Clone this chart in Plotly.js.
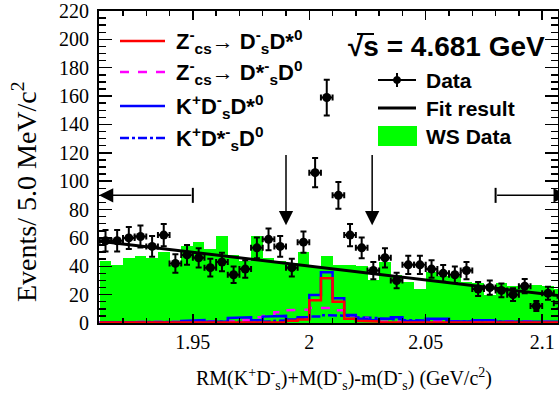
<!DOCTYPE html>
<html><head><meta charset="utf-8">
<script src="https://cdn.plot.ly/plotly-3.0.1.min.js"></script>
<style>html,body{margin:0;padding:0;background:#fff;}#chart{width:559px;height:397px;}</style>
</head><body><div id="chart"></div>
<script>
// ---- data (40 bins of 5 MeV starting at 1.91 GeV) ----
const binLow = 1.91;
const binWidth = 0.005;
const dataCounts = [58,58,60,61,54,62,42,48,46,39,43,34,38,53,59,54,39,57,106,159,90,62,53,37,46,30,41,41,38,35,34,37,24,25,23,20,26,12,21,14];
const wsCounts   = [44,41,46,47,46,50,41,54,57,52,61,48,44,61,46,44,42,50,40,47,41,41,40,30,43,34,29,24,36,33,33,29,28,20,28,26,27,27,26,24];
const zcsDsDst0  = [0.3,0.3,0.3,0.3,0.3,0.3,0.3,0.3,0.3,0.3,0.3,0.3,0.3,0.3,0.3,0.3,1.5,2.5,16,31.5,15,3,1.5,1,0.3,0.3,0.3,0.3,0.3,0.3,0.3,0.3,0.3,0.3,0.3,0.3,0.3,0.3,0.3,0.3];
const zcsDstsD0  = [0.5,0.5,0.5,0.5,0.5,0.5,0.5,0.5,0.5,0.5,0.5,1,2,4,5,7.5,9,9.5,10.5,10.5,9,5.5,3.5,1.5,0.8,0.8,0.8,0.8,0.8,0.8,0.8,0.8,0.8,0.8,0.8,0.8,0.8,0.8,0.8,0.8];
const kDsDst0    = [0.5,0.5,0.5,0.5,0.5,0.5,0.5,1.5,2,0.8,0.8,3.5,4,2,4.5,5,2.5,4,19.7,35.7,17.4,5.6,3,2,3,4,1.5,1,3,3,1,1,2,2,0.8,0.8,0.8,0.8,0.8,0.8];
const kDstsD0    = [0.5,0.5,0.5,0.5,0.5,0.5,0.5,0.5,0.5,0.5,0.5,0.5,0.5,0.5,1,1.5,2,3,4.5,5.5,5,5,4,3.5,3,2.5,2,2,1.5,1.5,1.2,1.2,1,1,1,0.8,0.8,0.6,0.5,0.5];
const fitX = [1.91, 2.11];
const fitY = [57.7, 18.7];
const sidebandEdges = [1.95, 2.08];
const signalEdges = [1.99, 2.027];
const xRange = [1.9097, 2.1068];
const yRange = [0, 220];

// ---- helpers ----
const centers = dataCounts.map((_, i) => binLow + (i + 0.5) * binWidth);
function steps(vals) {
  const xs = [], ys = [];
  vals.forEach((v, i) => { xs.push(binLow + i * binWidth, binLow + (i + 1) * binWidth); ys.push(v, v); });
  return {x: xs, y: ys};
}
// plot area in pixels
const L = 99, R = 558, T = 11, B = 323;
const px = x => (x - L) / (R - L);
const py = y => (B - y) / (B - T);

const traces = [];
traces.push({type:'bar', x: centers, y: wsCounts, width: binWidth, marker:{color:'#00ff00', line:{width:0}}, hoverinfo:'skip'});
const s1 = steps(kDstsD0);
traces.push({type:'scatter', mode:'lines', x:s1.x, y:s1.y, line:{color:'#0000ff', width:2.5, dash:'dashdot'}});
const s2 = steps(zcsDstsD0);
traces.push({type:'scatter', mode:'lines', x:s2.x, y:s2.y, line:{color:'#ff00ff', width:2.5, dash:'dash'}});
const s3 = steps(kDsDst0);
traces.push({type:'scatter', mode:'lines', x:s3.x, y:s3.y, line:{color:'#0000ff', width:2.5}});
const s4 = steps(zcsDsDst0);
traces.push({type:'scatter', mode:'lines', x:s4.x, y:s4.y, line:{color:'#ff0000', width:2.5}});
traces.push({type:'scatter', mode:'lines', x:fitX, y:fitY, line:{color:'black', width:3}});
traces.push({type:'scatter', mode:'markers', x:centers, y:dataCounts, cliponaxis:false,
  marker:{color:'black', size:9},
  error_y:{type:'sqrt', color:'black', thickness:2, width:3},
  error_x:{type:'constant', value:binWidth/2, color:'black', thickness:2, width:3}});

const shapes = [];
const annotations = [];
// sideband / signal arrows
const arrowY = 90;
annotations.push({x:xRange[0], y:arrowY, ax:sidebandEdges[0], ay:arrowY, axref:'x', ayref:'y', xref:'x', yref:'y', text:'', showarrow:true, arrowhead:2, arrowsize:1.9, arrowwidth:1.5, arrowcolor:'black'});
annotations.push({x:2.111, y:arrowY, ax:sidebandEdges[1], ay:arrowY, axref:'x', ayref:'y', xref:'x', yref:'y', text:'', showarrow:true, arrowhead:2, arrowsize:1.9, arrowwidth:1.5, arrowcolor:'black'});
sidebandEdges.forEach(e => shapes.push({type:'line', xref:'x', yref:'y', x0:e, x1:e, y0:arrowY-5.3, y1:arrowY+5.3, line:{color:'black', width:2}}));
signalEdges.forEach(e => annotations.push({x:e, y:69, ax:e, ay:119.6, axref:'x', ayref:'y', xref:'x', yref:'y', text:'', showarrow:true, arrowhead:2, arrowsize:1.9, arrowwidth:1.5, arrowcolor:'black'}));

// left legend
const legL = [
  {y:41, color:'#ff0000', dash:'solid', text:'<b>Z<sup>-</sup><sub>cs</sub>→ D<sup>-</sup><sub>s</sub>D*<sup>0</sup></b>'},
  {y:72, color:'#ff00ff', dash:'dash', text:'<b>Z<sup>-</sup><sub>cs</sub>→ D*<sup>-</sup><sub>s</sub>D<sup>0</sup></b>'},
  {y:106, color:'#0000ff', dash:'solid', text:'<b>K<sup>+</sup>D<sup>-</sup><sub>s</sub>D*<sup>0</sup></b>'},
  {y:138, color:'#0000ff', dash:'dashdot', text:'<b>K<sup>+</sup>D*<sup>-</sup><sub>s</sub>D<sup>0</sup></b>'}
];
legL.forEach(e => {
  shapes.push({type:'line', xref:'paper', yref:'paper', x0:px(120), x1:px(165), y0:py(e.y), y1:py(e.y), line:{color:e.color, width:2.5, dash:e.dash}});
  annotations.push({xref:'paper', yref:'paper', x:px(174), y:py(e.y), xanchor:'left', yanchor:'middle', text:e.text, showarrow:false, font:{family:'Liberation Sans', size:22, color:'black'}});
});
// right legend
shapes.push({type:'line', xref:'paper', yref:'paper', x0:px(378), x1:px(416), y0:py(80), y1:py(80), line:{color:'black', width:2}});
shapes.push({type:'line', xref:'paper', yref:'paper', x0:px(397), x1:px(397), y0:py(73), y1:py(87), line:{color:'black', width:2}});
shapes.push({type:'circle', xref:'paper', yref:'paper', x0:px(393.5), x1:px(400.5), y0:py(83.5), y1:py(76.5), fillcolor:'black', line:{color:'black', width:1}});
shapes.push({type:'line', xref:'paper', yref:'paper', x0:px(378), x1:px(416), y0:py(108), y1:py(108), line:{color:'black', width:3}});
shapes.push({type:'rect', xref:'paper', yref:'paper', x0:px(378), x1:px(417), y0:py(146), y1:py(126), fillcolor:'#00ff00', line:{width:0}});
[['Data',80],['Fit result',108],['WS Data',136]].forEach(([t,y]) => annotations.push({xref:'paper', yref:'paper', x:px(424), y:py(y), xanchor:'left', yanchor:'middle', text:'<b>'+t+'</b>', showarrow:false, font:{family:'Liberation Sans', size:21, color:'black'}}));
// energy label
annotations.push({xref:'paper', yref:'paper', x:px(346), y:py(46), xanchor:'left', yanchor:'middle', text:'<b>√s = 4.681 GeV</b>', showarrow:false, font:{family:'Liberation Sans', size:28, color:'black'}});
shapes.push({type:'line', xref:'paper', yref:'paper', x0:px(357), x1:px(374), y0:py(34), y1:py(34), line:{color:'black', width:2}});
// axis titles
annotations.push({xref:'paper', yref:'paper', x:px(344), y:py(379), xanchor:'center', yanchor:'middle', text:'RM(K<sup>+</sup>D<sup>-</sup><sub>s</sub>)+M(D<sup>-</sup><sub>s</sub>)-m(D<sup>-</sup><sub>s</sub>) (GeV/c<sup>2</sup>)', showarrow:false, font:{family:'Liberation Serif', size:20, color:'black'}});
annotations.push({xref:'paper', yref:'paper', x:px(25), y:py(192), xanchor:'center', yanchor:'middle', textangle:-90, text:'Events/ 5.0 MeV/c<sup>2</sup>', showarrow:false, font:{family:'Liberation Serif', size:28, color:'black'}});

const tickFont = {family:'Liberation Serif', size:20, color:'black'};
const layout = {
  width:559, height:397,
  margin:{l:L, r:559-R, t:T, b:397-B, pad:0},
  paper_bgcolor:'white', plot_bgcolor:'white',
  showlegend:false, bargap:0, barmode:'overlay',
  xaxis:{range:xRange, tickmode:'linear', tick0:1.9, dtick:0.05, ticks:'inside', ticklen:9, tickwidth:1.5, tickcolor:'black',
    showline:true, linecolor:'black', linewidth:2, mirror:'allticks', showgrid:false, zeroline:false, tickfont:tickFont,
    minor:{dtick:0.01, ticks:'inside', ticklen:5, tickwidth:1.5, tickcolor:'black', showgrid:false}},
  yaxis:{range:yRange, tickmode:'linear', tick0:0, dtick:20, ticks:'inside', ticklen:13, tickwidth:1.5, tickcolor:'black',
    showline:true, linecolor:'black', linewidth:2, mirror:'allticks', showgrid:false, zeroline:false, tickfont:tickFont, ticklabelstandoff:4,
    minor:{dtick:5, ticks:'inside', ticklen:7, tickwidth:1.5, tickcolor:'black', showgrid:false}},
  shapes:shapes, annotations:annotations
};
Plotly.newPlot('chart', traces, layout, {staticPlot:true, displayModeBar:false});
</script></body></html>
